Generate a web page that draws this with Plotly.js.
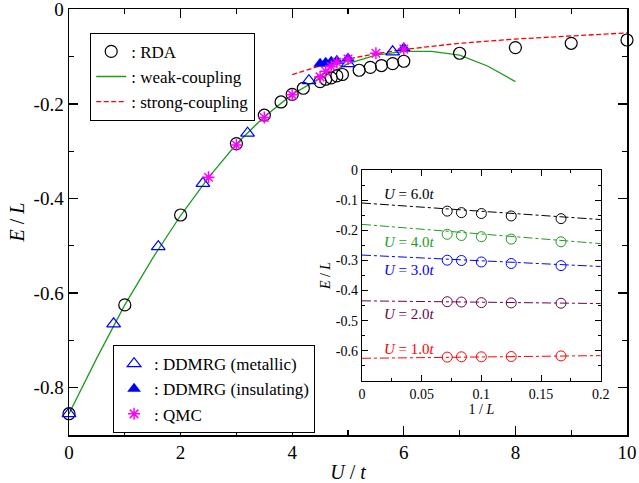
<!DOCTYPE html>
<html><head><meta charset="utf-8">
<script src="https://cdn.plot.ly/plotly-3.0.1.min.js"></script>
<style>body{margin:0;background:#fff}#c{width:639px;height:483px}</style>
</head><body><div id="c"></div>
<script>
// ---- main panel data ----
const rdaU = [0, 1, 2, 3, 3.5, 3.8, 4, 4.2, 4.5, 4.6, 4.7, 4.8, 4.9, 5.2, 5.4, 5.6, 5.8, 6, 7, 8, 9, 10];
const rdaE = [-0.855, -0.625, -0.435, -0.284, -0.224, -0.196, -0.180, -0.167, -0.153, -0.148, -0.145, -0.141, -0.138, -0.129, -0.123, -0.119, -0.115, -0.110, -0.093, -0.081, -0.072, -0.065];
const weakU = [0, 0.5, 1, 1.5, 2, 2.5, 3, 3.5, 4, 4.5, 5, 5.5, 6, 6.5, 7, 7.5, 8];
const weakE = [-0.855, -0.737, -0.625, -0.526, -0.436, -0.356, -0.285, -0.227, -0.180, -0.146, -0.115, -0.097, -0.089, -0.089, -0.097, -0.120, -0.153];
const strongU = [4, 4.5, 5, 5.5, 6, 7, 8, 9, 10];
const strongE = [-0.138, -0.120, -0.105, -0.094, -0.085, -0.072, -0.063, -0.056, -0.050];
const metU = [0, 0.8, 1.6, 2.4, 3.2, 4.3, 5.0, 5.8];
const metE = [-0.855, -0.665, -0.502, -0.368, -0.262, -0.151, -0.115, -0.090];
const insU = [4.5, 4.6, 4.7, 4.8, 5.0, 6.0];
const insE = [-0.115, -0.113, -0.111, -0.109, -0.104, -0.082];
const qmcU = [2.5, 3, 3.5, 4, 4.5, 4.6, 4.7, 4.8, 5.0, 5.5, 6.0];
const qmcE = [-0.355, -0.287, -0.229, -0.181, -0.143, -0.131, -0.121, -0.112, -0.105, -0.093, -0.084];
const mainYTicks = [0, -0.2, -0.4, -0.6, -0.8];
const mainYLabels = ['0', '-0.2', '-0.4', '-0.6', '-0.8'];

// ---- inset data ----
const invL = [0.0714, 0.0833, 0.1, 0.125, 0.1667];
const fitX = [0, 0.2];
const insetYTicks = [0, -0.1, -0.2, -0.3, -0.4, -0.5, -0.6];
const insetYLabels = ['0', '-0.1', '-0.2', '-0.3', '-0.4', '-0.5', '-0.6'];
const insetSets = [
  {label: '<i>U</i> = 6.0<i>t</i>', color: '#000000', E: [-0.136, -0.141, -0.144, -0.152, -0.161], fit: [-0.109, -0.164], ly: -0.080},
  {label: '<i>U</i> = 4.0<i>t</i>', color: '#1e9b1e', E: [-0.213, -0.217, -0.221, -0.229, -0.238], fit: [-0.180, -0.244], ly: -0.240},
  {label: '<i>U</i> = 3.0<i>t</i>', color: '#0000ff', E: [-0.299, -0.300, -0.305, -0.310, -0.317], fit: [-0.282, -0.320], ly: -0.332},
  {label: '<i>U</i> = 2.0<i>t</i>', color: '#67074a', E: [-0.437, -0.438, -0.440, -0.441, -0.442], fit: [-0.434, -0.443], ly: -0.478},
  {label: '<i>U</i> = 1.0<i>t</i>', color: '#ff0000', E: [-0.621, -0.620, -0.620, -0.619, -0.617], fit: [-0.625, -0.616], ly: -0.595}
];

const F = '"Liberation Serif", "Times New Roman", serif';
const all = [
  {x: weakU, y: weakE, mode: 'lines', name: ': weak-coupling', line: {color: '#1e9b1e', width: 1.3}, legend: 'legend', legendrank: 2},
  {x: strongU, y: strongE, mode: 'lines', name: ': strong-coupling', line: {color: '#ff0000', width: 1.3, dash: '5px,2.5px'}, legend: 'legend', legendrank: 3},
  {x: rdaU, y: rdaE, mode: 'markers', name: ': RDA', cliponaxis: false, marker: {symbol: 'circle-open', size: 12, color: '#000', line: {width: 1.2}}, legend: 'legend', legendrank: 1},
  {x: metU, y: metE, mode: 'markers', name: ': DDMRG (metallic)', cliponaxis: false, marker: {symbol: 'triangle-up-open', size: 12, color: '#0000ff', line: {width: 1.2}}, legend: 'legend2', legendrank: 4},
  {x: insU, y: insE, mode: 'markers', name: ': DDMRG (insulating)', cliponaxis: false, marker: {symbol: 'triangle-up', size: 12, color: '#0000ff', line: {width: 0}}, legend: 'legend2', legendrank: 5},
  {x: qmcU, y: qmcE, mode: 'markers', name: ': QMC', cliponaxis: false, marker: {symbol: 'asterisk-open', size: 10, color: '#ff00ff', line: {width: 1.5, color: '#ff00ff'}}, legend: 'legend2', legendrank: 6}
];

const annotations = [];
insetSets.forEach(s => {
  all.push({x: fitX, y: s.fit, xaxis: 'x2', yaxis: 'y2', mode: 'lines', showlegend: false, line: {color: s.color, width: 1, dash: 'dashdot'}});
  all.push({x: invL, y: s.E, xaxis: 'x2', yaxis: 'y2', mode: 'markers', showlegend: false, marker: {symbol: 'circle-open', size: 10, color: s.color, line: {width: 1}}});
  annotations.push({xref: 'x2', yref: 'y2', x: 0.017, y: s.ly, text: s.label, showarrow: false, xanchor: 'left', yanchor: 'middle', font: {family: F, size: 15, color: s.color}});
});

const axBase = {showline: true, linecolor: '#000', linewidth: 1.5, mirror: 'allticks', ticks: 'inside', zeroline: false, showgrid: false, tickcolor: '#000', ticklabeloverflow: 'allow'};
const layout = {
  width: 639, height: 483,
  margin: {l: 69, r: 12, t: 9, b: 48},
  paper_bgcolor: '#fff', plot_bgcolor: '#fff',
  font: {family: F, size: 18, color: '#000'},
  xaxis: Object.assign({}, axBase, {range: [0, 10], dtick: 2, ticklen: 9, tickwidth: 1.3,
    minor: {dtick: 1, ticklen: 5, ticks: 'inside', tickcolor: '#000'},
    title: {text: '<i>U</i> / <i>t</i>', font: {family: F, size: 20}, standoff: 2}, tickfont: {family: F, size: 19}}),
  yaxis: Object.assign({}, axBase, {range: [-0.9, 0.0005], tickmode: 'array', tickvals: mainYTicks, ticktext: mainYLabels, ticklen: 9, tickwidth: 1.3,
    minor: {tickmode: 'linear', tick0: 0, dtick: 0.1, ticklen: 5, ticks: 'inside', tickcolor: '#000'},
    automargin: 'left',
    title: {text: '<i>E</i> / <i>L</i>', font: {family: F, size: 20}, standoff: 3}, tickfont: {family: F, size: 19}}),
  xaxis2: Object.assign({}, axBase, {domain: [0.525, 0.953], anchor: 'y2', range: [0, 0.2], dtick: 0.05, ticklen: 6, linewidth: 1.2,
    minor: {dtick: 0.025, ticklen: 3, ticks: 'inside', tickcolor: '#000'},
    tickfont: {family: F, size: 14}, title: {text: '1 / <i>L</i>', font: {family: F, size: 14}, standoff: 1}}),
  yaxis2: Object.assign({}, axBase, {domain: [0.127, 0.622], anchor: 'x2', range: [-0.7, 0.0005], tickmode: 'array', tickvals: insetYTicks, ticktext: insetYLabels, ticklen: 6, linewidth: 1.2,
    minor: {tickmode: 'linear', tick0: 0, dtick: 0.05, ticklen: 3, ticks: 'inside', tickcolor: '#000'},
    automargin: 'left',
    tickfont: {family: F, size: 14}, title: {text: '<i>E</i> / <i>L</i>', font: {family: F, size: 14}, standoff: 1}}),
  legend: {x: 0.038, y: 0.944, xanchor: 'left', yanchor: 'top', bgcolor: '#fff', bordercolor: '#000', borderwidth: 1,
    font: {family: F, size: 17}, tracegroupgap: 0, itemwidth: 30},
  legend2: {x: 0.079, y: 0.211, xanchor: 'left', yanchor: 'top', bgcolor: '#fff', bordercolor: '#000', borderwidth: 1,
    font: {family: F, size: 17}, tracegroupgap: 0, itemwidth: 30},
  annotations: annotations,
  showlegend: true
};
Plotly.newPlot('c', all, layout, {displayModeBar: false, staticPlot: true});
</script>
</body></html>
